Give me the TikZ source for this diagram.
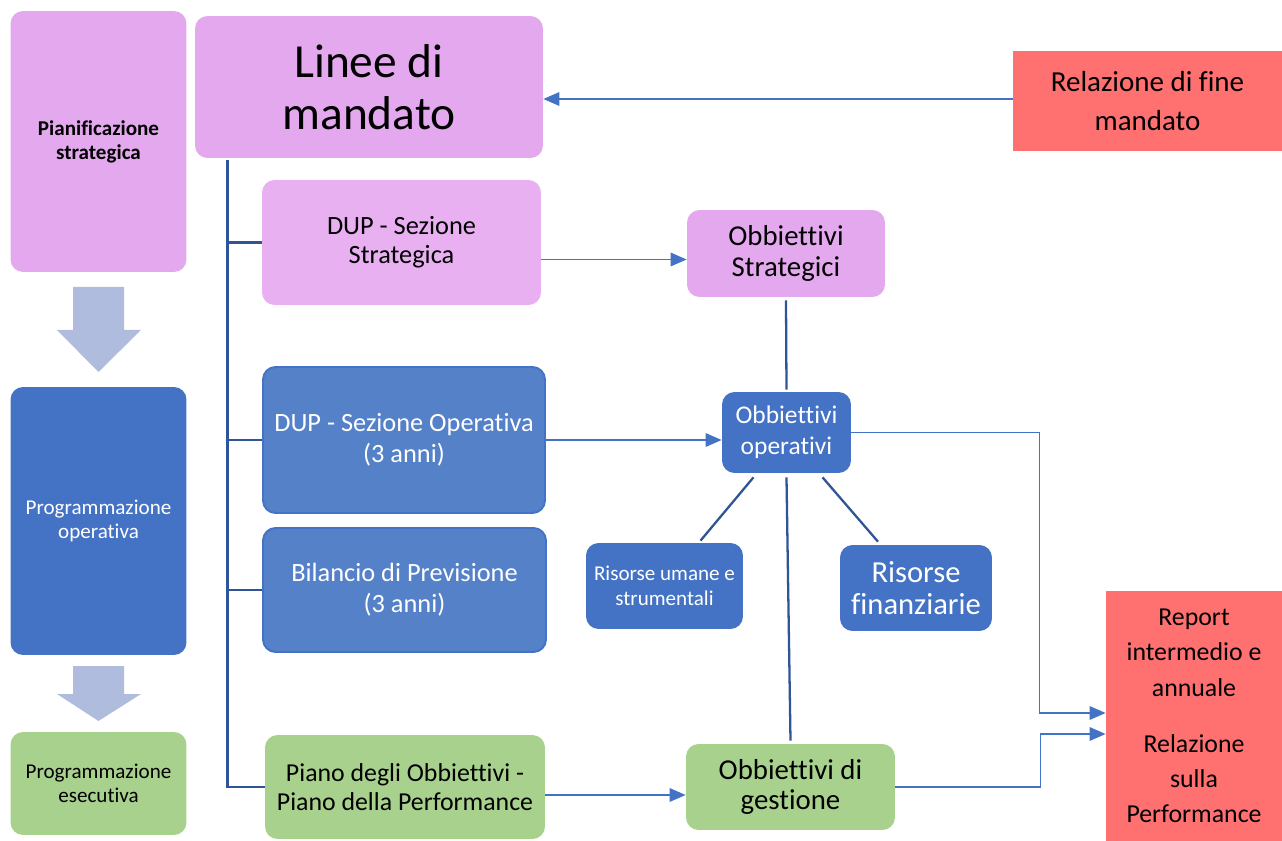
\documentclass[tikz,border=0pt]{standalone}
\usepackage{fontspec}
\setmainfont{Carlito}[Ligatures=NoCommon]
\usepackage{xcolor}
\usepackage{tikz}
\usetikzlibrary{arrows.meta,positioning,calc}

\definecolor{viola}{HTML}{E4A8EE}
\definecolor{violachiaro}{HTML}{E8B0F1}
\definecolor{blu}{HTML}{4472C4}
\definecolor{blumedio}{HTML}{5581C9}
\definecolor{bluscuro}{HTML}{2F5597}
\definecolor{verde}{HTML}{A9D18E}
\definecolor{rosso}{HTML}{FF7171}
\definecolor{frecciablu}{HTML}{AFBCDE}

\newcommand{\fsz}[2]{\fontsize{#1}{#2}\selectfont}

\begin{document}
\begin{tikzpicture}[
  x=0.02cm, y=-0.02cm,
  box/.style={rectangle, rounded corners=0.25cm, inner sep=0pt, align=center, text=black},
  lilla/.style={box, fill=viola},
  azzurro/.style={box, fill=blu, text=white},
  azzmedio/.style={box, fill=blumedio, draw=blu, line width=1.1pt, text=white},
  prato/.style={box, fill=verde},
  corallo/.style={rectangle, fill=rosso, inner sep=0pt, align=center},
  conn/.style={-{Triangle[length=0.32cm, width=0.27cm]}, blu, line width=0.8pt},
  albero/.style={bluscuro, line width=1.5pt},
  linea/.style={bluscuro, line width=1.3pt}
]
\useasboundingbox (0,0) rectangle (1282,841);

% Colonna di sinistra
\node[lilla, minimum width=3.52cm, minimum height=5.22cm, font=\fsz{12pt}{13.6pt}\bfseries]
  (pian) at (98.5,141.5) {Pianificazione\\strategica};
\node[azzurro, minimum width=3.52cm, minimum height=5.36cm, font=\fsz{12pt}{13.6pt}]
  (progop) at (98.5,521) {Programmazione\\operativa};
\node[prato, minimum width=3.52cm, minimum height=2.06cm, font=\fsz{12pt}{13.6pt}]
  (progese) at (98.5,783.5) {Programmazione\\esecutiva};

% Frecce larghe tra le fasi
\foreach \ys/\yh/\yt in {287/330/372, 666/694/721}
  \fill[frecciablu] (73,\ys) -- (124,\ys) -- (124,\yh) -- (141,\yh) -- (98.5,\yt)
    -- (57,\yh) -- (73,\yh) -- cycle;

% Documenti
\node[lilla, minimum width=6.96cm, minimum height=2.84cm, font=\fsz{27pt}{29.5pt}]
  (linee) at (369,87) {Linee di\\mandato};
\node[corallo, minimum width=5.38cm, minimum height=2.02cm, font=\fsz{16.5pt}{22.7pt}]
  (relfine) at (1147.5,101) {Relazione di fine\\mandato};
\node[box, fill=violachiaro, minimum width=5.58cm, minimum height=2.5cm, font=\fsz{15pt}{16.4pt}]
  (dupss) at (401.5,242.5) {DUP - Sezione\\Strategica};
\node[azzmedio, minimum width=5.64cm, minimum height=2.92cm, font=\fsz{15pt}{17.6pt}]
  (dupso) at (404,440) {DUP - Sezione Operativa\\(3 anni)};
\node[azzmedio, minimum width=5.66cm, minimum height=2.48cm, font=\fsz{15pt}{17.6pt}]
  (bil) at (404.5,590) {Bilancio di Previsione\\(3 anni)};
\node[prato, minimum width=5.6cm, minimum height=2.08cm, font=\fsz{14.7pt}{16.4pt}]
  (piano) at (405,787) {Piano degli Obbiettivi -\\Piano della Performance};

% Obbiettivi e risorse
\node[lilla, minimum width=3.96cm, minimum height=1.74cm, font=\fsz{16.4pt}{18pt}]
  (ostrat) at (786,253.5) {Obbiettivi\\Strategici};
\node[azzurro, minimum width=2.58cm, minimum height=1.62cm, font=\fsz{14.5pt}{17.6pt}]
  (oop) at (786.5,432.5) {Obbiettivi\\operativi};
\node[azzurro, minimum width=3.14cm, minimum height=1.72cm, font=\fsz{12pt}{14pt}]
  (rum) at (664.5,586) {Risorse umane e\\strumentali};
\node[azzurro, minimum width=3.04cm, minimum height=1.72cm, font=\fsz{17.4pt}{18.2pt}]
  (rfin) at (916,588) {Risorse\\finanziarie};
\node[prato, minimum width=4.18cm, minimum height=1.72cm, font=\fsz{16.4pt}{17.6pt}]
  (ogest) at (790.5,787) {Obbiettivi di\\gestione};
\node[corallo, minimum width=3.52cm, minimum height=5cm, font=\fsz{14.7pt}{20pt}]
  (report) at (1194,716) {Report\\intermedio e\\annuale\\[12pt]Relazione\\sulla\\Performance};

% Albero dalle linee di mandato
\coordinate (tronco) at ($(linee.south west)+(33,2)$);
\draw[albero] (tronco) |- (piano.west);
\foreach \n in {dupss,dupso,bil}
  \draw[albero] (tronco |- \n.west) -- (\n.west);

% Frecce
\coordinate (rfout) at ($(relfine.west)+(0,-2)$);
\draw[conn] (rfout) -- (rfout -| linee.east);
\coordinate (ossin) at ($(ostrat.west)+(0,6)$);
\draw[conn] (ossin -| dupss.east) -- (ossin);
\draw[conn] (dupso.east) -- (dupso.east -| oop.west);
\coordinate (ogsin) at ($(ogest.west)+(0,8)$);
\draw[conn] (ogsin -| piano.east) -- (ogsin);
\coordinate (rin1) at ($(report.west)+(0,-3)$);
\coordinate (rin2) at ($(report.west)+(0,18)$);
\draw[conn] (oop.east) -| ($(rin1)+(-66,0)$) -- (rin1);
\draw[conn] (ogest.east) -| ($(rin2)+(-65,0)$) -- (rin2);

% Collegamenti degli obbiettivi operativi
\draw[linea] ($(ostrat.south)+(0,3)$) -- ($(oop.north)+(0,-2)$);
\draw[linea] ($(oop.south)+(-33,4)$) -- ($(rum.north)+(36,-2)$);
\draw[linea] ($(oop.south)+(36,4)$) -- ($(rfin.north)+(-38,-3)$);
\draw[linea] ($(oop.south)+(0,4)$) -- ($(ogest.north)+(0,-3)$);

\end{tikzpicture}
\end{document}
